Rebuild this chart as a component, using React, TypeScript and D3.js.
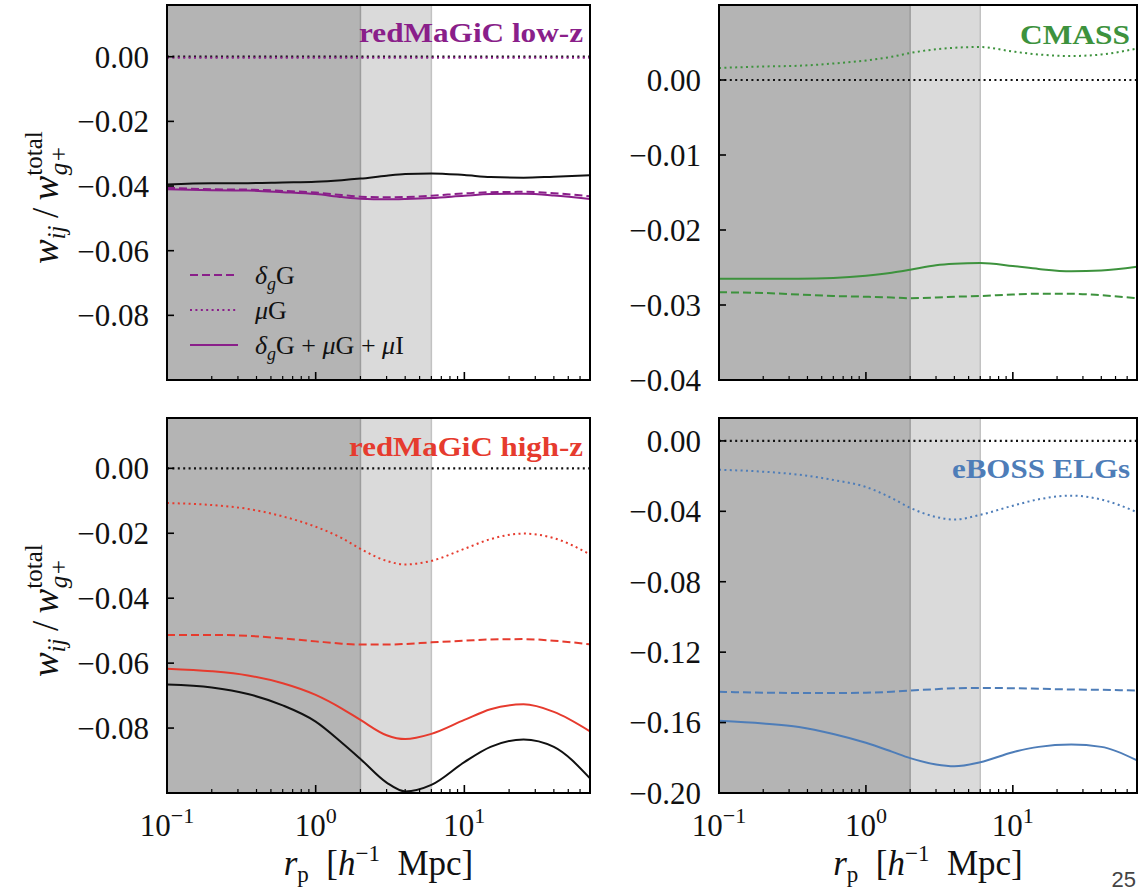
import React from 'react';
import * as d3 from 'd3';

// ---------- data ----------
const rp = [0.1, 0.2, 0.35, 0.6, 1, 1.5, 2, 3, 4, 6, 10, 15, 25, 40, 70];

// redMaGiC low-z
const lowzTotal = [-0.0395, -0.0391, -0.0391, -0.0389, -0.0387, -0.0382, -0.0377, -0.0368, -0.0363, -0.0361, -0.0366, -0.0372, -0.0374, -0.0371, -0.0367];
const lowzDeltaG = [-0.0405, -0.041, -0.0411, -0.0415, -0.042, -0.0428, -0.0433, -0.0435, -0.0434, -0.043, -0.0423, -0.0419, -0.0418, -0.0422, -0.0432];
const lowzMuG = [-0.0003, -0.0003, -0.0003, -0.0003, -0.0003, -0.0003, -0.0003, -0.0003, -0.0003, -0.0003, -0.0003, -0.0003, -0.0003, -0.0003, -0.0003];
const lowzSum = [-0.041, -0.0413, -0.0414, -0.0419, -0.0425, -0.0434, -0.0439, -0.0441, -0.044, -0.0437, -0.043, -0.0425, -0.0424, -0.0429, -0.044];

// redMaGiC high-z
const highzTotal = [-0.0666, -0.0675, -0.0695, -0.073, -0.078, -0.0845, -0.0895, -0.0968, -0.0995, -0.0975, -0.0905, -0.0858, -0.0835, -0.0858, -0.0955];
const highzDeltaG = [-0.0513, -0.0513, -0.0516, -0.0524, -0.0533, -0.054, -0.0543, -0.0543, -0.0541, -0.0536, -0.0531, -0.0527, -0.0526, -0.0531, -0.0542];
const highzMuG = [-0.0107, -0.0113, -0.0125, -0.0148, -0.018, -0.0215, -0.0248, -0.0285, -0.0296, -0.0285, -0.0248, -0.0218, -0.0201, -0.0215, -0.0265];
const highzSum = [-0.0617, -0.0625, -0.0638, -0.0662, -0.0698, -0.074, -0.0775, -0.0822, -0.0834, -0.0818, -0.0775, -0.0742, -0.0727, -0.075, -0.081];

// CMASS
const cmassDeltaG = [-0.0283, -0.0284, -0.0286, -0.0288, -0.0289, -0.029, -0.0291, -0.029, -0.0289, -0.0288, -0.0286, -0.0285, -0.0285, -0.0287, -0.0291];
const cmassMuG = [0.0016, 0.0018, 0.0019, 0.0022, 0.0026, 0.0031, 0.0036, 0.0041, 0.0043, 0.0044, 0.0038, 0.0034, 0.0032, 0.0034, 0.0042];
const cmassSum = [-0.0265, -0.0265, -0.0265, -0.0264, -0.0261, -0.0257, -0.0253, -0.0247, -0.0245, -0.0244, -0.0248, -0.0252, -0.0255, -0.0254, -0.0249];

// eBOSS ELGs
const elgDeltaG = [-0.1425, -0.143, -0.1432, -0.1432, -0.143, -0.1425, -0.1418, -0.141, -0.1405, -0.1403, -0.1405, -0.1408, -0.1412, -0.1414, -0.1418];
const elgMuG = [-0.0164, -0.0175, -0.0192, -0.0222, -0.0262, -0.0325, -0.038, -0.0432, -0.0447, -0.042, -0.0368, -0.0332, -0.0311, -0.0333, -0.0405];
const elgSum = [-0.159, -0.1605, -0.1625, -0.1665, -0.1715, -0.1765, -0.1802, -0.1838, -0.1848, -0.1825, -0.1768, -0.1738, -0.1725, -0.1738, -0.1815];

const yTicksRedmagic = [0, -0.02, -0.04, -0.06, -0.08];
const yTicksCmass = [0, -0.01, -0.02, -0.03, -0.04];
const yTicksElg = [0, -0.04, -0.08, -0.12, -0.16, -0.2];
const xMajor = [0.1, 1, 10];
const xMajorExp = ['\u22121', '0', '1'];
const xDomain = [0.1, 70];
const scaleCuts = [2, 6];
const legendLabels = ['dG', 'muG', 'sum'];

// ---------- styles ----------
const SERIF = "'Liberation Serif', 'DejaVu Serif', serif";
const PURPLE = '#8a1f8a';
const GREEN = '#3d923d';
const RED = '#e63b2e';
const BLUE = '#4e7db8';
const DASH = '8,4';
const DOT = '2,3.4';

type Series = { values: number[]; color: string; dash?: string; width?: number };
type PanelSpec = {
  id: string; x0: number; x1: number; y0: number; y1: number;
  yDomain: [number, number]; yTicks: number[]; title: string; titleLen: number; color: string;
  titleY: number; series: Series[]; xLabels: boolean; legend?: boolean;
};

function fmt(v: number) {
  if (Math.abs(v) < 1e-12) return '0.00';
  const s = Math.abs(v).toFixed(2);
  return (v < 0 ? '\u2212' : '') + s;
}

function MathLabel({ kind }: { kind: string }) {
  if (kind === 'dG') {
    return (
      <>
        <tspan fontStyle="italic">δ</tspan>
        <tspan fontStyle="italic" fontSize={18} dy={6}>g</tspan>
        <tspan dy={-6}>G</tspan>
      </>
    );
  }
  if (kind === 'muG') {
    return (
      <>
        <tspan fontStyle="italic">μ</tspan>
        <tspan>G</tspan>
      </>
    );
  }
  return (
    <>
      <tspan fontStyle="italic">δ</tspan>
      <tspan fontStyle="italic" fontSize={18} dy={6}>g</tspan>
      <tspan dy={-6}>G + </tspan>
      <tspan fontStyle="italic">μ</tspan>
      <tspan>G + </tspan>
      <tspan fontStyle="italic">μ</tspan>
      <tspan>I</tspan>
    </>
  );
}

function Panel({ p }: { p: PanelSpec }) {
  const x = d3.scaleLog().domain(xDomain).range([p.x0, p.x1]);
  const y = d3.scaleLinear().domain(p.yDomain).range([p.y1, p.y0]);
  const line = d3
    .line<number>()
    .x((_, i) => x(rp[i]))
    .y((d) => y(d))
    .curve(d3.curveMonotoneX);
  const zero = d3.line<number>().x((d) => x(d)).y(() => y(0));
  const minor: number[] = [];
  for (const dec of [0.1, 1, 10]) {
    for (let k = 2; k <= 9; k++) {
      const v = dec * k;
      if (v < xDomain[1]) minor.push(v);
    }
  }
  const clipId = `clip-${p.id}`;
  const xa = x(xDomain[0]);
  const xc1 = x(scaleCuts[0]);
  const xc2 = x(scaleCuts[1]);
  return (
    <g>
      <defs>
        <clipPath id={clipId}>
          <rect x={p.x0} y={p.y0} width={p.x1 - p.x0} height={p.y1 - p.y0} />
        </clipPath>
      </defs>
      <rect x={xa} y={p.y0} width={xc1 - xa} height={p.y1 - p.y0} fill="#b4b4b4" />
      <rect x={xc1} y={p.y0} width={xc2 - xc1} height={p.y1 - p.y0} fill="#dadada" />
      <line x1={xc1} x2={xc1} y1={p.y0} y2={p.y1} stroke="#9c9c9c" strokeWidth={1.5} />
      <line x1={xc2} x2={xc2} y1={p.y0} y2={p.y1} stroke="#c2c2c2" strokeWidth={1.5} />
      <g clipPath={`url(#${clipId})`}>
        <path d={zero(xDomain) || ''} stroke="#111" strokeWidth={2.2} strokeDasharray={DOT} fill="none" />
        {p.series.map((s, i) => (
          <path
            key={i}
            d={line(s.values) || ''}
            stroke={s.color}
            strokeWidth={s.width ?? 2}
            strokeDasharray={s.dash}
            fill="none"
          />
        ))}
      </g>
      {p.yTicks.map((t) => (
        <g key={t}>
          <line x1={p.x0} x2={p.x0 + 7} y1={y(t)} y2={y(t)} stroke="#000" strokeWidth={1.6} />
          <text
            x={p.x0 - 18}
            y={y(t)}
            dy="0.35em"
            textAnchor="end"
            fontFamily={SERIF}
            fontSize={31}
            fill="#111"
          >
            {fmt(t)}
          </text>
        </g>
      ))}
      {xMajor.map((t, i) => (
        <g key={t}>
          <line x1={x(t)} x2={x(t)} y1={p.y1} y2={p.y1 - 8} stroke="#000" strokeWidth={1.6} />
          {p.xLabels && (
            <text x={x(t)} y={p.y1 + 43} textAnchor="middle" fontFamily={SERIF} fontSize={31} fill="#111">
              <tspan>10</tspan>
              <tspan fontSize={22} dy={-13}>{xMajorExp[i]}</tspan>
            </text>
          )}
        </g>
      ))}
      {minor.map((t) => (
        <line key={t} x1={x(t)} x2={x(t)} y1={p.y1} y2={p.y1 - 4} stroke="#000" strokeWidth={1.2} />
      ))}
      <rect
        x={p.x0}
        y={p.y0}
        width={p.x1 - p.x0}
        height={p.y1 - p.y0}
        fill="none"
        stroke="#000"
        strokeWidth={2}
      />
      <text
        x={p.x1 - 7}
        y={p.titleY}
        textAnchor="end"
        fontFamily={SERIF}
        fontWeight="bold"
        fontSize={28}
        textLength={p.titleLen}
        lengthAdjust="spacingAndGlyphs"
        fill={p.color}
      >
        {p.title}
      </text>
      {p.legend && (
        <g fontFamily={SERIF} fontSize={26} fill="#111">
          {legendLabels.map((lab, i) => {
            const ly = 275 + i * 35;
            const s = p.series[i + 1];
            return (
              <g key={lab}>
                <line
                  x1={p.x0 + 23}
                  x2={p.x0 + 71}
                  y1={ly}
                  y2={ly}
                  stroke={s.color}
                  strokeWidth={2}
                  strokeDasharray={s.dash}
                />
                <text x={p.x0 + 88} y={ly} dy="0.35em">
                  <MathLabel kind={lab} />
                </text>
              </g>
            );
          })}
        </g>
      )}
    </g>
  );
}

function YLabel({ cy }: { cy: number }) {
  return (
    <text transform={`translate(58, ${cy}) rotate(-90)`} textAnchor="middle" fontFamily={SERIF} fontSize={37} fill="#111">
      <tspan fontStyle="italic">w</tspan>
      <tspan fontStyle="italic" fontSize={25} dy={7}>ij</tspan>
      <tspan dy={-7}>{'\u2009/\u2009'}</tspan>
      <tspan fontStyle="italic">w</tspan>
      <tspan fontSize={25} dy={-16}>total</tspan>
      <tspan fontStyle="italic" fontSize={25} dx={-44} dy={25}>g+</tspan>
      <tspan fontSize={25} dy={-9}>{'\u2002\u2002'}</tspan>
    </text>
  );
}

function XLabel({ cx }: { cx: number }) {
  return (
    <text x={cx} y={875} textAnchor="middle" fontFamily={SERIF} fontSize={35} fill="#111">
      <tspan fontStyle="italic">r</tspan>
      <tspan fontSize={23} dy={7}>p</tspan>
      <tspan dy={-7}>{'\u2002['}</tspan>
      <tspan fontStyle="italic">h</tspan>
      <tspan fontSize={23} dy={-14}>{'\u22121'}</tspan>
      <tspan dy={14}>{'\u2002Mpc]'}</tspan>
    </text>
  );
}

export default function App() {
  const L = { x0: 167, x1: 590 };
  const R = { x0: 719, x1: 1137 };
  const T = { y0: 5, y1: 380 };
  const B = { y0: 418, y1: 793 };
  const panels: PanelSpec[] = [
    {
      id: 'lowz', ...L, ...T, yDomain: [-0.1, 0.016], yTicks: yTicksRedmagic,
      title: 'redMaGiC low-z', titleLen: 224, color: PURPLE, titleY: 42, xLabels: false, legend: true,
      series: [
        { values: lowzTotal, color: '#111' },
        { values: lowzDeltaG, color: PURPLE, dash: DASH },
        { values: lowzMuG, color: PURPLE, dash: DOT },
        { values: lowzSum, color: PURPLE },
      ],
    },
    {
      id: 'cmass', ...R, ...T, yDomain: [-0.04, 0.01], yTicks: yTicksCmass,
      title: 'CMASS', titleLen: 110, color: GREEN, titleY: 44, xLabels: false,
      series: [
        { values: cmassDeltaG, color: GREEN, dash: DASH },
        { values: cmassMuG, color: GREEN, dash: DOT },
        { values: cmassSum, color: GREEN },
      ],
    },
    {
      id: 'highz', ...L, ...B, yDomain: [-0.1, 0.0155], yTicks: yTicksRedmagic,
      title: 'redMaGiC high-z', titleLen: 234, color: RED, titleY: 456, xLabels: true,
      series: [
        { values: highzTotal, color: '#111' },
        { values: highzDeltaG, color: RED, dash: DASH },
        { values: highzMuG, color: RED, dash: DOT },
        { values: highzSum, color: RED },
      ],
    },
    {
      id: 'elg', ...R, ...B, yDomain: [-0.2, 0.013], yTicks: yTicksElg,
      title: 'eBOSS ELGs', titleLen: 178, color: BLUE, titleY: 478, xLabels: true,
      series: [
        { values: elgDeltaG, color: BLUE, dash: DASH },
        { values: elgMuG, color: BLUE, dash: DOT },
        { values: elgSum, color: BLUE },
      ],
    },
  ];
  return (
    <svg
      width={1142}
      height={892}
      style={{ position: 'absolute', left: 0, top: 0, background: '#fff' }}
    >
      <rect width={1142} height={892} fill="#fff" />
      {panels.map((p) => (
        <Panel key={p.id} p={p} />
      ))}
      <YLabel cy={(T.y0 + T.y1) / 2} />
      <YLabel cy={(B.y0 + B.y1) / 2} />
      <XLabel cx={(L.x0 + L.x1) / 2} />
      <XLabel cx={(R.x0 + R.x1) / 2} />
      <text x={1136} y={887} textAnchor="end" fontFamily="'Liberation Sans', Arial, sans-serif" fontSize={22} fill="#444">
        25
      </text>
    </svg>
  );
}
